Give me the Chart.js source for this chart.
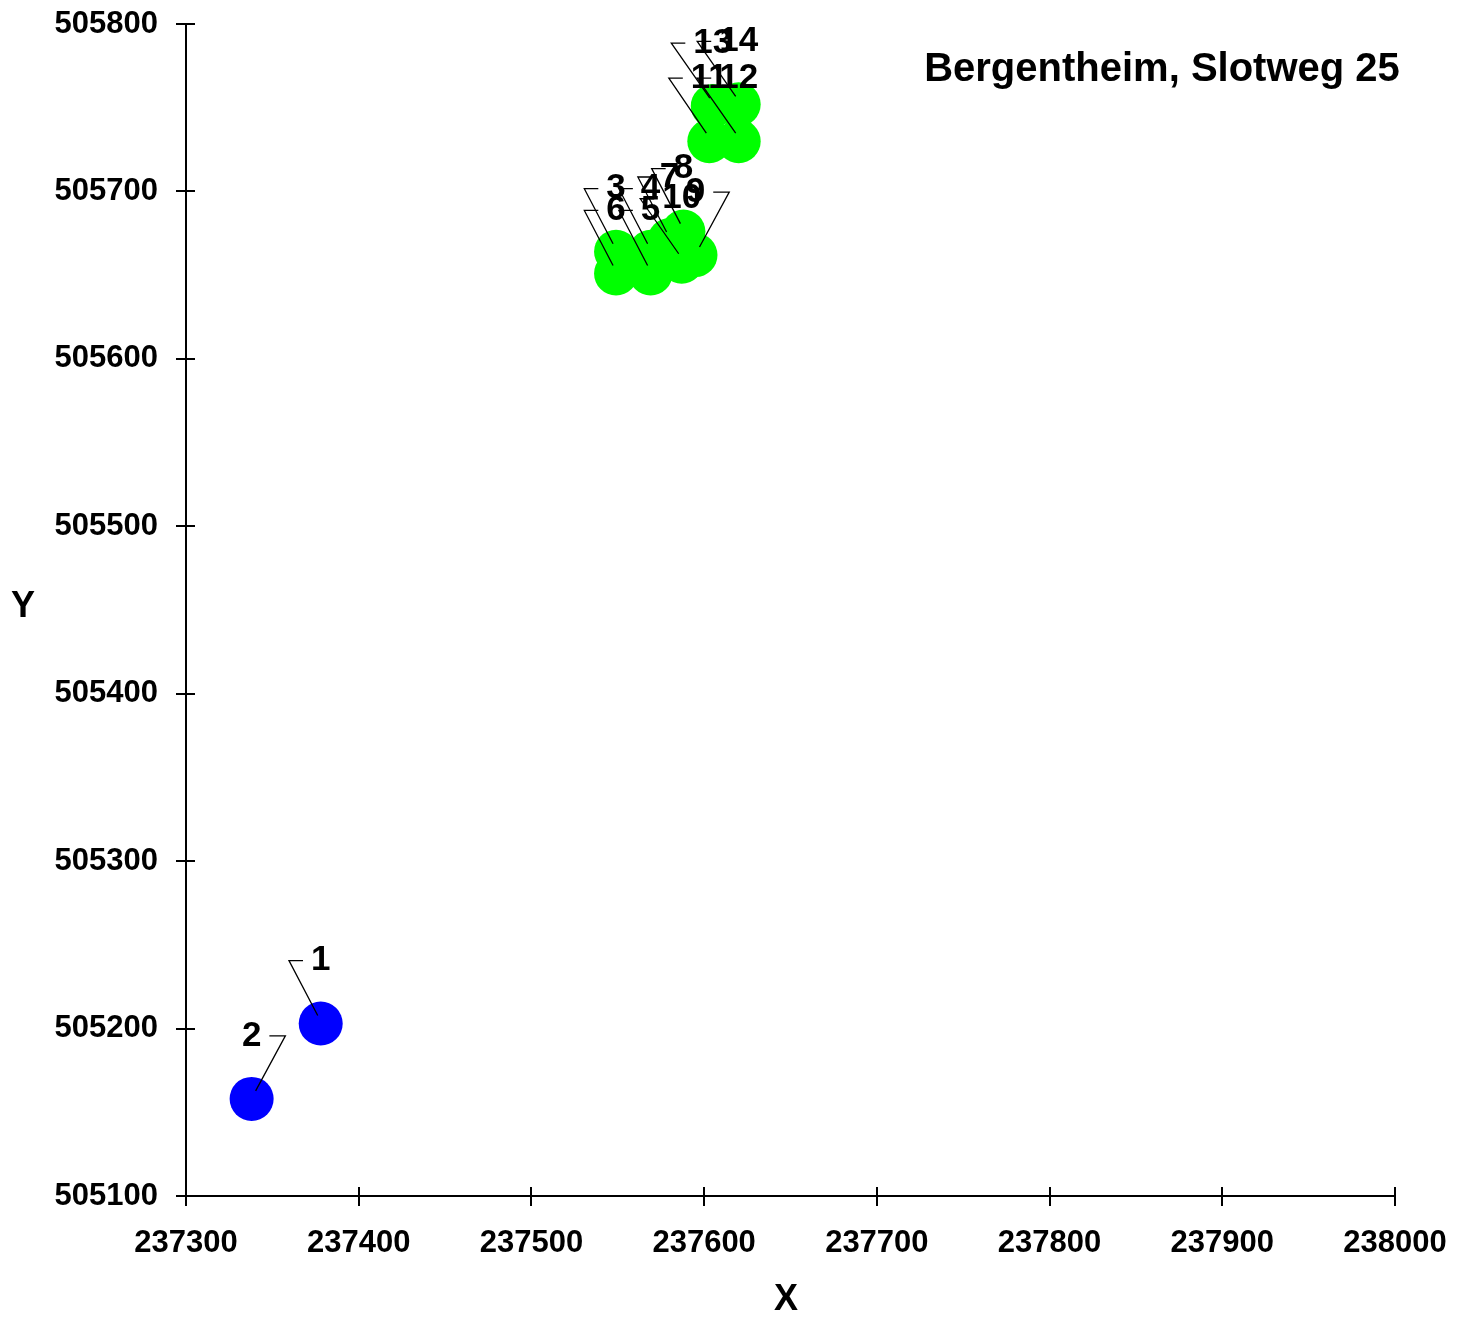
<!DOCTYPE html>
<html>
<head>
<meta charset="utf-8">
<title>Bergentheim, Slotweg 25</title>
<script src="https://cdn.jsdelivr.net/npm/chart.js@4.4.0/dist/chart.umd.min.js"></script>
<style>
  html, body { margin: 0; padding: 0; background: #fff; }
  #wrap { width: 1468px; height: 1321px; }
</style>
</head>
<body>
<div id="wrap"><canvas id="scatterChart"></canvas></div>
<script>
const chartTitle = "Bergentheim, Slotweg 25";
const xTitle = "X";
const yTitle = "Y";

// blue points
const blueNames = ["1", "2"];
const blueX = [237378, 237338];
const blueY = [505203, 505158];

// green points
const greenNames = ["3", "4", "5", "6", "7", "8", "9", "10", "11", "12", "13", "14"];
const greenX = [237549, 237569, 237569, 237549, 237580, 237588, 237595, 237587, 237603, 237620, 237605, 237620];
const greenY = [505664, 505664, 505651, 505651, 505671, 505676, 505662, 505658, 505730, 505730, 505751, 505752];

// axis range / ticks
const xMin = 237300, xMax = 238000, xStep = 100;
const yMin = 505100, yMax = 505800, yStep = 100;

// labels that sit with their leader on the right side
const rightLeaders = ["2", "9"];

const FONT = "'Liberation Sans', Arial, sans-serif";

function toPoints(xs, ys) {
    return xs.map((x, i) => ({ x: x, y: ys[i] }));
}

const pointLabels = {
    id: 'pointLabels',
    afterDatasetsDraw(chart) {
        const ctx = chart.ctx;
        const names = [blueNames, greenNames];
        ctx.save();
        ctx.font = "bold 35px " + FONT;
        ctx.textBaseline = 'middle';
        ctx.textAlign = 'center';
        chart.data.datasets.forEach((ds, d) => {
            const meta = chart.getDatasetMeta(d);
            meta.data.forEach((el, i) => {
                const name = names[d][i];
                const tx = el.x, ty = el.y - 63;
                const w = ctx.measureText(name).width;
                ctx.strokeStyle = '#000';
                ctx.lineWidth = 1.3;
                ctx.beginPath();
                if (rightLeaders.includes(name)) {
                    const bx = tx + w / 2 + 8;
                    ctx.moveTo(bx, ty);
                    ctx.lineTo(bx + 16, ty);
                    ctx.lineTo(el.x + 4, el.y - 8);
                } else {
                    const bx = tx - w / 2 - 8;
                    ctx.moveTo(bx, ty);
                    ctx.lineTo(bx - 14, ty);
                    ctx.lineTo(el.x - 3, el.y - 8);
                }
                ctx.stroke();
                ctx.fillStyle = '#000';
                ctx.fillText(name, tx, ty);
            });
        });
        ctx.restore();
    }
};

const decorations = {
    id: 'decorations',
    afterDraw(chart) {
        const ctx = chart.ctx;
        const xs = chart.scales.x, ys = chart.scales.y;
        const area = chart.chartArea;
        ctx.save();
        // inner half of the crossing tick marks
        ctx.strokeStyle = '#000';
        ctx.lineWidth = 2;
        ctx.beginPath();
        for (let v = xMin; v <= xMax; v += xStep) {
            const px = Math.round(xs.getPixelForValue(v));
            ctx.moveTo(px, area.bottom);
            ctx.lineTo(px, area.bottom - 9);
        }
        for (let v = yMin; v <= yMax; v += yStep) {
            const py = Math.round(ys.getPixelForValue(v));
            ctx.moveTo(area.left, py);
            ctx.lineTo(area.left + 9, py);
        }
        ctx.stroke();

        ctx.fillStyle = '#000';
        ctx.textBaseline = 'middle';
        ctx.textAlign = 'center';
        ctx.font = "bold 40px " + FONT;
        ctx.fillText(chartTitle, 1162, 70);
        ctx.font = "bold 36px " + FONT;
        ctx.fillText(yTitle, 23, 607);
        ctx.fillText(xTitle, 786, 1300);
        ctx.restore();
    }
};

const ctxScatter = document.getElementById('scatterChart').getContext('2d');

const scatterChart = new Chart(ctxScatter, {
    type: 'scatter',
    data: {
        datasets: [{
            label: 'blue',
            data: toPoints(blueX, blueY),
            backgroundColor: '#0000ff',
            borderColor: '#0000ff',
            pointRadius: 22,
            pointHoverRadius: 22,
            borderWidth: 0
        }, {
            label: 'green',
            data: toPoints(greenX, greenY),
            backgroundColor: '#00ff00',
            borderColor: '#00ff00',
            pointRadius: 22,
            pointHoverRadius: 22,
            borderWidth: 0
        }]
    },
    options: {
        responsive: true,
        maintainAspectRatio: false,
        animation: false,
        layout: {
            padding: { left: 0, top: 24, right: 73, bottom: 0 }
        },
        plugins: {
            legend: { display: false },
            title: { display: false },
            tooltip: { enabled: false }
        },
        scales: {
            x: {
                type: 'linear',
                min: xMin,
                max: xMax,
                afterFit: (scale) => {
                    scale.height = 125;
                    scale.paddingLeft = 0;
                    scale.paddingRight = 0;
                },
                ticks: {
                    stepSize: xStep,
                    color: '#000',
                    padding: 19,
                    maxRotation: 0,
                    font: { family: FONT, size: 31, weight: 'bold' },
                    callback: (v) => String(v)
                },
                grid: {
                    drawOnChartArea: false,
                    drawTicks: true,
                    tickLength: 10,
                    color: '#000',
                    lineWidth: 2
                },
                border: { display: true, color: '#000', width: 2 }
            },
            y: {
                type: 'linear',
                min: yMin,
                max: yMax,
                afterFit: (scale) => {
                    scale.width = 186;
                    scale.paddingTop = 0;
                    scale.paddingBottom = 0;
                },
                ticks: {
                    stepSize: yStep,
                    color: '#000',
                    padding: 18,
                    font: { family: FONT, size: 31, weight: 'bold' },
                    callback: (v) => String(v)
                },
                grid: {
                    drawOnChartArea: false,
                    drawTicks: true,
                    tickLength: 10,
                    color: '#000',
                    lineWidth: 2
                },
                border: { display: true, color: '#000', width: 2 }
            }
        }
    },
    plugins: [pointLabels, decorations]
});
</script>
</body>
</html>
